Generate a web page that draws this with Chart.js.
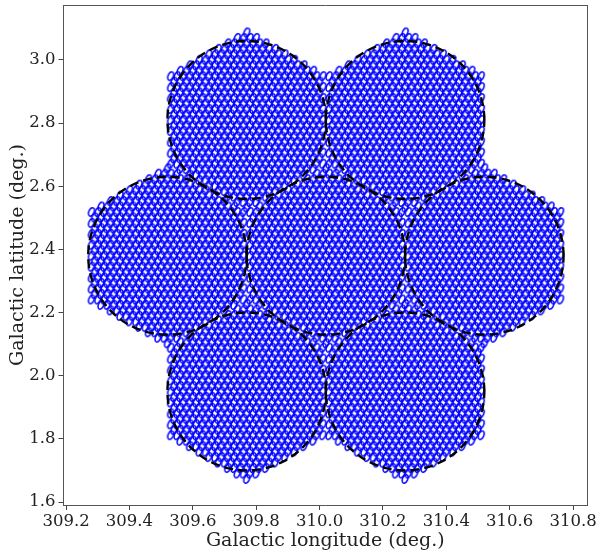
<!DOCTYPE html>
<html><head><meta charset="utf-8">
<script src="https://cdn.jsdelivr.net/npm/chart.js@4.4.0/dist/chart.umd.min.js"></script>
<style>html,body{margin:0;padding:0;background:#fff;}</style>
</head><body>
<canvas id="c" width="598" height="553"></canvas>
<script>
// Tile (pointing) centres, galactic coordinates in degrees
const tileLon = [309.77, 310.27, 309.52, 310.02, 310.52, 309.77, 310.27];
const tileLat = [2.81, 2.81, 2.38, 2.38, 2.38, 1.95, 1.95];
// Tile geometry (degrees)
const circleRadius = 0.25;   // dashed primary-beam circle
const hexRadius = 0.28;      // hexagonal beam-tiling extent (pointy top)
const beamSpacing = 0.02;    // spacing of the beam lattice
// Axis ticks
const xTickValues = [309.2, 309.4, 309.6, 309.8, 310.0, 310.2, 310.4, 310.6, 310.8];
const xTickLabels = ['309.2', '309.4', '309.6', '309.8', '310.0', '310.2', '310.4', '310.6', '310.8'];
const yTickValues = [1.6, 1.8, 2.0, 2.2, 2.4, 2.6, 2.8, 3.0];
const yTickLabels = ['1.6', '1.8', '2.0', '2.2', '2.4', '2.6', '2.8', '3.0'];

// Beam lattice per tile
function tileBeams(cx, cy) {
  const pts = [];
  const dy = beamSpacing * Math.sqrt(3) / 2;
  const nRow = Math.ceil(hexRadius / dy) + 1;
  const nCol = Math.ceil(hexRadius / beamSpacing) + 2;
  for (let r = -nRow; r <= nRow; r++) {
    const off = (Math.abs(r) % 2) * beamSpacing / 2;
    for (let c = -nCol; c <= nCol; c++) {
      const ox = c * beamSpacing + off;
      const oy = r * dy;
      const ax = Math.abs(ox), ay = Math.abs(oy);
      if (ax <= hexRadius * Math.sqrt(3) / 2 + 1e-9 && ay + ax / Math.sqrt(3) <= hexRadius + 1e-9) {
        pts.push({x: cx + ox, y: cy + oy});
      }
    }
  }
  return pts;
}
function circlePts(cx, cy) {
  const pts = [];
  for (let i = 0; i <= 180; i++) {
    const a = i / 180 * 2 * Math.PI;
    pts.push({x: cx + circleRadius * Math.cos(a), y: cy + circleRadius * Math.sin(a)});
  }
  return pts;
}
function makeBeam() {
  const c = document.createElement('canvas');
  c.width = 16; c.height = 16;
  const g = c.getContext('2d');
  g.strokeStyle = '#0000ff';
  g.lineWidth = 1.5;
  g.beginPath();
  g.ellipse(8, 8, 2.6, 4.5, 22 * Math.PI / 180, 0, 2 * Math.PI);
  g.stroke();
  return c;
}
const beamSprite = makeBeam();

const datasets = [];
for (let i = 0; i < tileLon.length; i++) {
  datasets.push({
    type: 'scatter', data: circlePts(tileLon[i], tileLat[i]), showLine: true,
    borderColor: '#000', borderWidth: 2.4, borderDash: [9, 5], pointRadius: 0,
    fill: false, tension: 0, order: 0
  });
}
for (let i = 0; i < tileLon.length; i++) {
  datasets.push({
    type: 'scatter', data: tileBeams(tileLon[i], tileLat[i]),
    pointStyle: beamSprite, pointRadius: 3, order: 1
  });
}

const tickFont = {family: 'DejaVu Serif', size: 16.5};
const titleFont = {family: 'DejaVu Serif', size: 19};
const X_MIN = 309.192, X_MAX = 310.844, Y_MIN = 1.5905, Y_MAX = 3.174;
function noPad(s) { s.paddingTop = 0; s.paddingBottom = 0; s.paddingLeft = 0; s.paddingRight = 0; }

new Chart(document.getElementById('c'), {
  type: 'scatter',
  data: {datasets},
  options: {
    responsive: false, animation: false, devicePixelRatio: 1, events: [],
    layout: {padding: 0},
    plugins: {legend: {display: false}, tooltip: {enabled: false}},
    scales: {
      x: {
        type: 'linear', position: 'bottom', min: X_MIN, max: X_MAX,
        afterBuildTicks: s => { s.ticks = xTickValues.map(v => ({value: v})); },
        afterFit: s => { s.height = 48; noPad(s); },
        grid: {drawOnChartArea: false, drawTicks: true, tickLength: 5, tickColor: '#444', tickWidth: 1},
        border: {display: true, color: '#555', width: 1},
        ticks: {font: tickFont, color: '#222', padding: 2, maxRotation: 0, autoSkip: false,
                callback: (v, i) => xTickLabels[i]},
        title: {display: true, text: 'Galactic longitude (deg.)', font: titleFont, color: '#222', padding: {top: 0, bottom: 1}}
      },
      y: {
        type: 'linear', position: 'left', min: Y_MIN, max: Y_MAX,
        afterBuildTicks: s => { s.ticks = yTickValues.map(v => ({value: v})); },
        afterFit: s => { s.width = 63.5; noPad(s); },
        grid: {drawOnChartArea: false, drawTicks: true, tickLength: 5, tickColor: '#444', tickWidth: 1},
        border: {display: true, color: '#555', width: 1},
        ticks: {font: tickFont, color: '#222', padding: 3, autoSkip: false,
                callback: (v, i) => yTickLabels[i]},
        title: {display: true, text: 'Galactic latitude (deg.)', font: titleFont, color: '#222', padding: {top: 7, bottom: 0}}
      },
      x2: {
        type: 'linear', position: 'top', min: X_MIN, max: X_MAX,
        afterFit: s => { s.height = 5; noPad(s); },
        grid: {display: false, drawTicks: false},
        border: {display: true, color: '#555', width: 1},
        ticks: {display: false}
      },
      y2: {
        type: 'linear', position: 'right', min: Y_MIN, max: Y_MAX,
        afterFit: s => { s.width = 11; noPad(s); },
        grid: {display: false, drawTicks: false},
        border: {display: true, color: '#555', width: 1},
        ticks: {display: false}
      }
    }
  }
});
</script>
</body></html>
